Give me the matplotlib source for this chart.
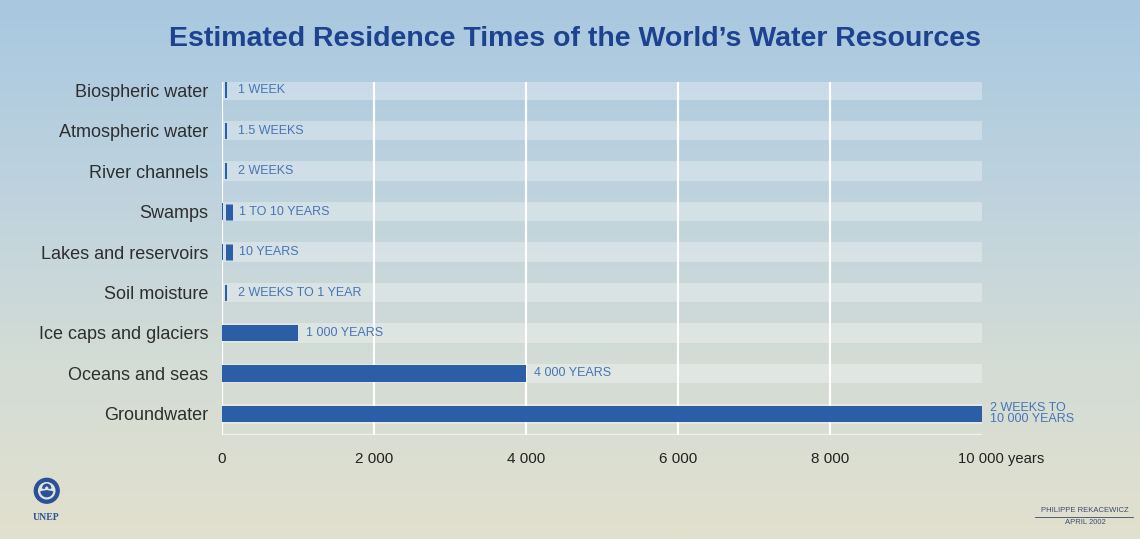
import numpy as np
import matplotlib
matplotlib.use("Agg")
import matplotlib.pyplot as plt
import matplotlib.transforms as mtransforms
from matplotlib.colors import LinearSegmentedColormap
from matplotlib.patches import Circle, Wedge

plt.rcParams["font.family"] = ["Liberation Sans", "DejaVu Sans"]

categories = ["Biospheric water", "Atmospheric water", "River channels", "Swamps",
              "Lakes and reservoirs", "Soil moisture", "Ice caps and glaciers",
              "Oceans and seas", "Groundwater"]
# residence time in years (upper bound where a range is given)
years = [1 / 52, 1.5 / 52, 2 / 52, 10, 10, 1, 1000, 4000, 10000]
value_labels = ["1 WEEK", "1.5 WEEKS", "2 WEEKS", "1 TO 10 YEARS", "10 YEARS",
                "2 WEEKS TO 1 YEAR", "1 000 YEARS", "4 000 YEARS", "2 WEEKS TO\n10 000 YEARS"]
xticks = [0, 2000, 4000, 6000, 8000]
xtick_labels = ["0", "2 000", "4 000", "6 000", "8 000"]

bar_col = "#2b5ea6"
lab_col = "#4675b5"

fig = plt.figure(figsize=(11.4, 5.39), dpi=100)

# sky-to-sand gradient behind everything
bg = fig.add_axes([0, 0, 1, 1], zorder=-10)
cmap = LinearSegmentedColormap.from_list("bg", ["#a8c8e0", "#bdd2de", "#d3dcd6", "#e2e0ce"])
bg.imshow(np.linspace(0, 1, 256).reshape(-1, 1), aspect="auto", cmap=cmap,
          extent=[0, 1, 0, 1], origin="upper")
bg.set_axis_off()

ax = fig.add_axes([222 / 1140, 104 / 539, 760 / 1140, 353 / 539])
ax.patch.set_alpha(0)
n = len(categories)
ypos = np.arange(n)
ax.set_xlim(0, 10000)
ax.set_ylim(n - 1 + 0.52, -0.2)

# pale row bands
ax.barh(ypos, [10000] * n, height=0.48, color="white", alpha=0.3, zorder=1, linewidth=0)
for x in xticks:
    ax.axvline(x, color="white", lw=1.6, zorder=2)
ax.axhline(n - 1 + 0.5, color="white", lw=1, alpha=0.6, zorder=2)

ax.barh(ypos, years, height=0.4, color=bar_col, zorder=3, linewidth=0)

# bars too short to see get a small tick so the row still shows a mark
px = ax.get_window_extent().width / 10000
for i, v in enumerate(years):
    if v * px < 3:
        w = 7 if v >= 10 else 2
        shift = ax.transData + mtransforms.ScaledTranslation((3 + w / 2) / 100, 0,
                                                             fig.dpi_scale_trans)
        ax.plot([v], [i], marker="|", ms=11, mew=w * 0.72, color=bar_col, transform=shift,
                zorder=4, clip_on=False)
        off = 16
    else:
        off = 8
    ax.annotate(value_labels[i], xy=(v, i), xytext=(off, 0), textcoords="offset pixels",
                ha="left", va="center", fontsize=9, color=lab_col, linespacing=0.9,
                annotation_clip=False)

ax.set_yticks(ypos)
ax.set_yticklabels(categories, fontsize=13, color="#2e2e2e")
ax.set_xticks(xticks)
ax.set_xticklabels(xtick_labels, fontsize=11, color="#222222")
ax.tick_params(axis="y", length=0, pad=10)
ax.tick_params(axis="x", length=0, pad=12)
for s in ax.spines.values():
    s.set_visible(False)
ax.annotate("10 000 years", xy=(10000, 0), xycoords=("data", "axes fraction"),
            xytext=(-24, -17), textcoords="offset pixels", ha="left", va="top",
            fontsize=10.6, color="#222222", annotation_clip=False)

fig.text(0.504, 0.928, "Estimated Residence Times of the World\u2019s Water Resources",
         ha="center", va="center", fontsize=20.5, fontweight="bold", color="#1c4290")

# credit
fig.text(0.952, 0.052, "PHILIPPE REKACEWICZ", ha="center", va="center", fontsize=5.5, color="#3b4a6b")
fig.text(0.952, 0.030, "APRIL 2002", ha="center", va="center", fontsize=5.5, color="#3b4a6b")
fig.add_artist(plt.Line2D([0.908, 0.994], [0.041, 0.041], color="#3b4a6b", lw=0.6))

# UNEP emblem
lg = fig.add_axes([0.026, 0.058, 0.03, 0.063])
lg.set_xlim(-1.3, 1.3)
lg.set_ylim(-1.3, 1.3)
lg.set_aspect("equal")
lg.set_axis_off()
lg.add_patch(Circle((0, 0), 0.95, color="#2b5194"))
lg.add_patch(Circle((0, 0), 0.62, color="#dfe3e3"))
lg.add_patch(Wedge((0, 0), 0.45, 190, 350, color="#2b5194"))
lg.add_patch(Wedge((0, 0.2), 0.3, 0, 180, width=0.12, color="#2b5194"))
fig.text(0.04, 0.040, "UNEP", ha="center", va="center", fontsize=7, fontweight="bold",
         color="#2b5194", family=["Liberation Serif", "DejaVu Serif"])

fig.savefig("out.png", dpi=100)
